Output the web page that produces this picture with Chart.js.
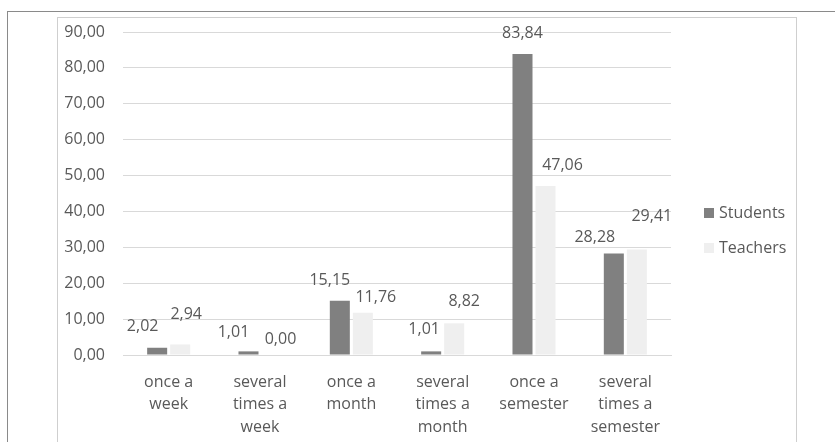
<!DOCTYPE html>
<html>
<head>
<meta charset="utf-8">
<script src="https://cdn.jsdelivr.net/npm/chart.js@4/dist/chart.umd.min.js"></script>
<style>
  html, body { margin: 0; padding: 0; background: #fff; }
  #wrap { position: relative; width: 835px; height: 442px; overflow: hidden; }
  #outer { position: absolute; left: 7px; top: 11px; width: 900px; height: 600px; border-left: 1px solid #8a8a8a; border-top: 1px solid #8a8a8a; box-sizing: border-box; }
  #inner { position: absolute; left: 57px; top: 17px; width: 740px; height: 600px; border: 1px solid #cfcfcf; box-sizing: border-box; }
  canvas { position: absolute; left: 0; top: 0; }
</style>
</head>
<body>
<div id="wrap">
  <div id="outer"></div>
  <div id="inner"></div>
  <canvas id="c" width="835" height="442"></canvas>
</div>
<script>
const categories = [
  ["once a", "week"],
  ["several", "times a", "week"],
  ["once a", "month"],
  ["several", "times a", "month"],
  ["once a", "semester"],
  ["several", "times a", "semester"]
];
const students = [2.02, 1.01, 15.15, 1.01, 83.84, 28.28];
const teachers = [2.94, 0.00, 11.76, 8.82, 47.06, 29.41];
const seriesNames = ["Students", "Teachers"];
const yMax = 90;
const yStep = 10;

// label nudges (style only)
const nudgeX = [[-14.5, -15, -10, -7, 0, -19], [6, 9, 13, 10, 17, 15]];
const nudgeY = [[21, 19, 20, 22, 21, 16], [30, 16, 15, 22, 21, 33]];

const colors = ["#808080", "#efefef"];
const textColor = "#595959";
const font = { family: "'Open Sans', sans-serif", size: 16 };
const fmt = v => v.toFixed(2).replace('.', ',');

const labelPlugin = {
  id: 'labelsAndLegend',
  afterDatasetsDraw(chart) {
    const ctx = chart.ctx;
    ctx.save();
    ctx.font = "16px 'Open Sans', sans-serif";
    ctx.fillStyle = textColor;
    ctx.textAlign = 'center';
    ctx.textBaseline = 'middle';
    chart.data.datasets.forEach((ds, di) => {
      const meta = chart.getDatasetMeta(di);
      meta.data.forEach((bar, i) => {
        ctx.fillText(fmt(ds.data[i]), bar.x + nudgeX[di][i], bar.y - nudgeY[di][i]);
      });
    });
    // legend
    const lx = 704, ly = [213, 248];
    ctx.textAlign = 'left';
    seriesNames.forEach((n, i) => {
      ctx.fillStyle = colors[i];
      ctx.fillRect(lx, ly[i] - 5, 10, 10);
      ctx.fillStyle = textColor;
      ctx.fillText(n, lx + 15, ly[i]);
    });
    ctx.restore();
  }
};

new Chart(document.getElementById('c'), {
  type: 'bar',
  data: {
    labels: categories,
    datasets: [
      { label: seriesNames[0], data: students, backgroundColor: colors[0] },
      { label: seriesNames[1], data: teachers, backgroundColor: colors[1] }
    ]
  },
  options: {
    responsive: false,
    animation: false,
    devicePixelRatio: 1,
    layout: { padding: { left: 0, right: 164, top: 32, bottom: 0 } },
    datasets: { bar: { categoryPercentage: 0.504, barPercentage: 0.87 } },
    plugins: { legend: { display: false }, tooltip: { enabled: false } },
    scales: {
      x: {
        grid: { display: false, drawTicks: false },
        border: { display: true, color: '#d9d9d9', width: 1 },
        ticks: { color: textColor, font: { family: font.family, size: 16, lineHeight: 1.4 }, padding: 16, maxRotation: 0, autoSkip: false },
        afterFit(s) { s.height = 87; }
      },
      y: {
        min: 0, max: yMax,
        grid: { color: '#d9d9d9', drawTicks: false, lineWidth: 1 },
        border: { display: false },
        ticks: { stepSize: yStep, color: textColor, font: font, padding: 18, callback: v => fmt(v) },
        afterFit(s) { s.width = 123; }
      }
    }
  },
  plugins: [labelPlugin]
});
</script>
</body>
</html>
